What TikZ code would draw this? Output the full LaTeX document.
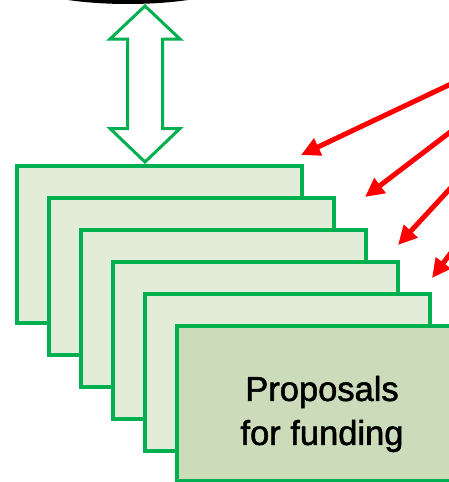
\documentclass[tikz,border=0pt]{standalone}
\usepackage{fontspec}
\setmainfont{Liberation Sans}
\newfontfamily\labelfont[FakeBold=1.6]{Liberation Sans}
\usetikzlibrary{arrows.meta,shapes.geometric}
\definecolor{pgreen}{HTML}{00B050}
\definecolor{plight}{HTML}{E2ECD9}
\definecolor{pfront}{HTML}{CCDCBB}
\definecolor{pred}{HTML}{FF0000}
\tikzset{
  card/.style={draw=pgreen, line width=4pt, fill=plight, rectangle, anchor=north west,
    minimum width=285pt, minimum height=157pt, inner sep=0pt, outer sep=0pt},
  frontcard/.style={card, fill=pfront},
  redarrow/.style={draw=pred, line width=5pt, -{Triangle[length=19pt,width=18pt]}},
  dblarrow/.style={draw=pgreen, line width=3pt, fill=white, line join=miter},
  label/.style={font=\labelfont\fontsize{34.5}{44}\selectfont, align=center, text=black, inner sep=0pt}
}
\begin{document}
\begin{tikzpicture}[x=1pt,y=-1pt]
\useasboundingbox (0,0) rectangle (449,482);
\clip (0,0) rectangle (449,482);
% top ellipse (mostly outside the picture)
\node[draw=black, line width=4pt, fill=white, ellipse, minimum width=240pt, minimum height=60pt, inner sep=0pt] (top) at (128,-28) {};
% stacked cards
\node[card] (c1) at (17,166) {};
\node[card] (c2) at (49,198) {};
\node[card] (c3) at (81,230) {};
\node[card] (c4) at (113,262) {};
\node[card] (c5) at (145,294) {};
\node[frontcard, minimum height=155pt] (c6) at (177,326) {};
\node[label] (txt) at (322,414) {Proposals\\for funding};
% double arrow between ellipse and first card
\draw[dblarrow] (145,6) -- (180,39) -- (162.5,39) -- (162.5,128.5) -- (180,128.5)
  -- (145,162) -- (110,128.5) -- (127.5,128.5) -- (127.5,39) -- (110,39) -- cycle;
% red arrows
\coordinate (s1) at (470,75);
\coordinate (t1) at (301,155);
\coordinate (s2) at (470,117);
\coordinate (t2) at (365,197);
\coordinate (s3) at (470,167);
\coordinate (t3) at (398,245);
\coordinate (s4) at (462,238);
\coordinate (t4) at (432,278);
\draw[redarrow] (s1) -- (t1);
\draw[redarrow] (s2) -- (t2);
\draw[redarrow] (s3) -- (t3);
\draw[redarrow] (s4) -- (t4);
\end{tikzpicture}
\end{document}
